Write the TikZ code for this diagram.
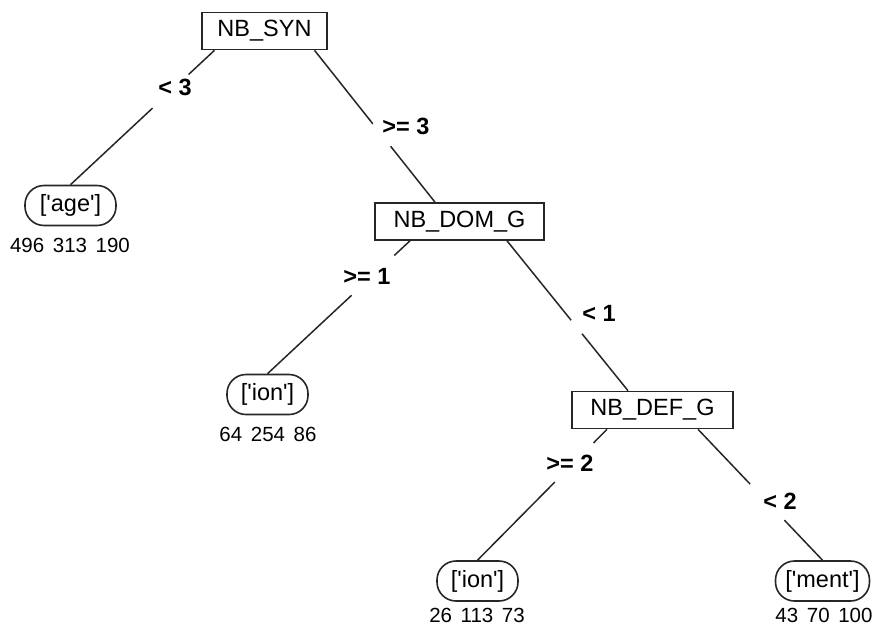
\documentclass[tikz,border=0pt]{standalone}
\usepackage{fontspec}
\usetikzlibrary{calc}
\newfontfamily\treefont{Liberation Sans}

\newcommand{\gapsp}{\hspace{0.42em}}

\tikzset{
  splitbox/.style={draw=black!85, line width=1.6pt, rectangle, minimum height=37pt,
    inner xsep=0pt, inner ysep=0pt, font=\treefont\fontsize{23.5}{26}\selectfont},
  leafbox/.style={draw=black!85, line width=1.6pt, rectangle, rounded corners=19pt,
    minimum height=40pt, inner xsep=0pt, inner ysep=0pt, font=\treefont\fontsize{23.5}{26}\selectfont},
  counts/.style={font=\treefont\fontsize{20.5}{23}\selectfont, inner sep=0pt},
  edgelbl/.style={font=\treefont\bfseries\fontsize{23.5}{26}\selectfont, inner sep=0pt},
  branch/.style={draw=black!85, line width=1.5pt}
}

\begin{document}
\begin{tikzpicture}[x=1pt, y=-1pt]
\useasboundingbox (0,0) rectangle (875,627);

% split nodes
\node[splitbox, minimum width=125pt] (syn) at (264.5,31) {NB\_SYN};
\node[splitbox, minimum width=169pt] (dom) at (459.5,221.5) {NB\_DOM\_G};
\node[splitbox, minimum width=161pt] (def) at (652.5,410) {NB\_DEF\_G};

% leaves
\node[leafbox, minimum width=91pt] (age) at (70.5,205.5) {['age']};
\node[leafbox, minimum width=81pt] (ion1) at (267.5,394.5) {['ion']};
\node[leafbox, minimum width=81pt] (ion2) at (477.5,581) {['ion']};
\node[leafbox, minimum width=94pt] (ment) at (822.5,581) {['ment']};

% class counts under each leaf
\node[counts] (cage) at (70,245) {496\gapsp313\gapsp190};
\node[counts] (cion1) at (268,434.5) {64\gapsp254\gapsp86};
\node[counts] (cion2) at (477,615.5) {26\gapsp113\gapsp73};
\node[counts] (cment) at (824,615.5) {43\gapsp70\gapsp100};

% branch attachment points
\coordinate (synL) at ($(syn.south)+(-50,0)$);
\coordinate (synR) at ($(syn.south)+(50,0)$);
\coordinate (domT) at ($(dom.north)+(-24.5,0)$);
\coordinate (domL) at ($(dom.south)+(-49.5,0)$);
\coordinate (domR) at ($(dom.south)+(47.5,0)$);
\coordinate (defT) at ($(def.north)+(-24.5,0)$);
\coordinate (defL) at ($(def.south)+(-45.5,0)$);
\coordinate (defR) at ($(def.south)+(45.5,0)$);

% branches, broken where the split labels sit
\draw[branch] (synL) -- ($(synL)!0.18!(age.north)$)
              ($(synL)!0.43!(age.north)$) -- (age.north);
\draw[branch] (synR) -- ($(synR)!0.484!(domT)$)
              ($(synR)!0.632!(domT)$) -- (domT);
\draw[branch] (domL) -- ($(domL)!0.11!(ion1.north)$)
              ($(domL)!0.41!(ion1.north)$) -- (ion1.north);
\draw[branch] (domR) -- ($(domR)!0.53!(defT)$)
              ($(domR)!0.62!(defT)$) -- (defT);
\draw[branch] (defL) -- ($(defL)!0.104!(ion2.north)$)
              ($(defL)!0.403!(ion2.north)$) -- (ion2.north);
\draw[branch] (defR) -- ($(defR)!0.418!(ment.north)$)
              ($(defR)!0.694!(ment.north)$) -- (ment.north);

% split labels
\node[edgelbl] (l1) at (175,87) {< 3};
\node[edgelbl] (l2) at (406,126) {>= 3};
\node[edgelbl] (l3) at (367,276) {>= 1};
\node[edgelbl] (l4) at (599,313) {< 1};
\node[edgelbl] (l5) at (570,463) {>= 2};
\node[edgelbl] (l6) at (780,501) {< 2};
\end{tikzpicture}
\end{document}
